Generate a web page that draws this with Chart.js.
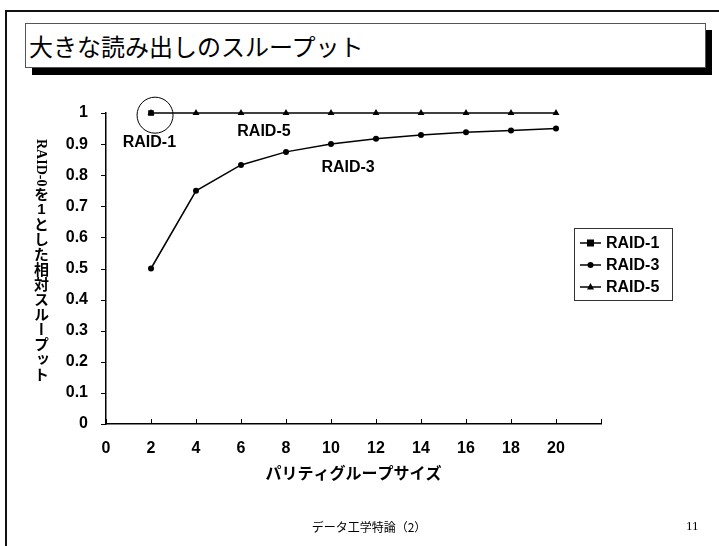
<!DOCTYPE html>
<html>
<head>
<meta charset="utf-8">
<script src="https://cdn.jsdelivr.net/npm/chart.js@4.4.1/dist/chart.umd.min.js"></script>
<style>
  body { margin: 0; width: 719px; height: 546px; overflow: hidden; background: #fff; position: relative; font-family: "Noto Sans CJK JP", sans-serif; }
  #frame { position: absolute; left: 5px; top: 10px; width: 730px; height: 560px; border-top: 2px solid #111; border-left: 2px solid #111; }
  #shadow { position: absolute; left: 32px; top: 30px; width: 680px; height: 45px; background: #000; }
  #titlebox { position: absolute; left: 25px; top: 23px; width: 679px; height: 43px; background: #fff; border: 1px solid #555; }
  #titlebox span { position: absolute; left: 3px; top: 4px; font-size: 24px; line-height: 36px; color: #000; }
  #ytitle { position: absolute; left: 31px; top: 139px; writing-mode: vertical-rl; text-orientation: mixed; font-weight: bold; font-size: 15px; line-height: 20px; color: #000; white-space: nowrap; }
  #ytitle .lat { font-family: "Liberation Serif", serif; font-size: 14px; }
  #ytitle .up { text-combine-upright: all; font-family: "Liberation Sans", sans-serif; }
  #footer { position: absolute; left: 0; width: 738px; top: 518px; text-align: center; font-size: 12px; line-height: 18px; }
  #pageno { position: absolute; left: 686px; top: 517px; font-family: "Liberation Serif", serif; font-size: 13px; line-height: 18px; }
  canvas { position: absolute; left: 0; top: 0; }
</style>
</head>
<body>
<div id="frame"></div>
<div id="shadow"></div>
<div id="titlebox"><span>大きな読み出しのスループット</span></div>
<canvas id="chart" width="719" height="546"></canvas>
<div id="ytitle"><span class="lat">RAID-0</span>を<span class="up">1</span>とした相対スループット</div>
<div id="footer">データ工学特論（2）</div>
<div id="pageno">11</div>
<script>
// parity group size on the x axis
const groupSizes = [2, 4, 6, 8, 10, 12, 14, 16, 18, 20];
const raid1Sizes = [2];
const raid1 = [1];
const raid3 = [0.5, 0.75, 0.833, 0.875, 0.9, 0.917, 0.929, 0.938, 0.944, 0.95];
const raid5 = [1, 1, 1, 1, 1, 1, 1, 1, 1, 1];
const seriesNames = ["RAID-1", "RAID-3", "RAID-5"];
const xTitle = "パリティグループサイズ";

// text labels placed on the plot, in data units
const notes = [
  { text: "RAID-1", x: 1.93, y: 0.905 },
  { text: "RAID-5", x: 7.02, y: 0.94 },
  { text: "RAID-3", x: 10.76, y: 0.825 }
];
const ring = { x: 2.18, y: 0.993 };

const boldFont = "bold 16px 'Liberation Sans', Arial, sans-serif";

function pts(xs, ys) {
  return xs.map((v, i) => ({ x: v, y: ys[i] }));
}

function marker(ctx, style, x, y) {
  ctx.beginPath();
  if (style === "rect") {
    ctx.rect(x - 3.5, y - 3.5, 7, 7);
  } else if (style === "circle") {
    ctx.arc(x, y, 3, 0, Math.PI * 2);
  } else {
    ctx.moveTo(x, y - 4);
    ctx.lineTo(x + 3.5, y + 2.5);
    ctx.lineTo(x - 3.5, y + 2.5);
    ctx.closePath();
  }
  ctx.fill();
}

const extras = {
  id: "extras",
  afterDraw(chart) {
    const ctx = chart.ctx;
    const x = chart.scales.x, y = chart.scales.y;
    ctx.save();
    ctx.strokeStyle = "#000";
    ctx.fillStyle = "#000";
    ctx.lineWidth = 1;
    // tick marks: x inward, y outward
    ctx.beginPath();
    x.ticks.forEach(t => {
      const px = Math.round(x.getPixelForValue(t.value)) + 0.5;
      ctx.moveTo(px, y.bottom);
      ctx.lineTo(px, y.bottom - 5);
    });
    y.ticks.forEach(t => {
      const py = Math.round(y.getPixelForValue(t.value)) + 0.5;
      ctx.moveTo(x.left - 5, py);
      ctx.lineTo(x.left, py);
    });
    ctx.stroke();

    // notes
    ctx.font = boldFont;
    ctx.textAlign = "center";
    ctx.textBaseline = "middle";
    notes.forEach(n => ctx.fillText(n.text, x.getPixelForValue(n.x), y.getPixelForValue(n.y)));

    // ring round RAID-1
    ctx.beginPath();
    ctx.arc(x.getPixelForValue(ring.x), y.getPixelForValue(ring.y), 18, 0, Math.PI * 2);
    ctx.stroke();

    // legend box
    ctx.strokeStyle = "#333";
    ctx.strokeRect(574.5, 228.5, 98, 72);
    ctx.textAlign = "left";
    chart.data.datasets.forEach((ds, i) => {
      const ry = 243 + i * 22;
      ctx.strokeStyle = "#000";
      ctx.lineWidth = 1.5;
      ctx.beginPath();
      ctx.moveTo(580, ry);
      ctx.lineTo(601, ry);
      ctx.stroke();
      marker(ctx, ds.pointStyle, 590.5, ry);
      ctx.fillText(ds.label, 606, ry + 1);
    });
    ctx.restore();
  }
};

new Chart(document.getElementById("chart"), {
  type: "line",
  data: {
    datasets: [
      { label: seriesNames[0], data: pts(raid1Sizes, raid1), pointStyle: "rect", pointRadius: 4 },
      { label: seriesNames[1], data: pts(groupSizes, raid3), pointStyle: "circle", pointRadius: 3 },
      { label: seriesNames[2], data: pts(groupSizes, raid5), pointStyle: "triangle", pointRadius: 4 }
    ].map(d => Object.assign(d, {
      borderColor: "#000",
      backgroundColor: "#000",
      pointBackgroundColor: "#000",
      pointBorderColor: "#000",
      borderWidth: 1.5,
      pointBorderWidth: 0,
      tension: 0,
      clip: false
    }))
  },
  options: {
    responsive: false,
    animation: false,
    layout: { padding: { left: 0, top: 113, right: 118, bottom: 0 } },
    plugins: { legend: { display: false }, tooltip: { enabled: false } },
    scales: {
      x: {
        type: "linear",
        min: 0,
        max: 22,
        afterFit(s) { s.height = 122; },
        ticks: {
          stepSize: 2,
          padding: 15,
          maxRotation: 0,
          color: "#000",
          font: { family: "'Liberation Sans', Arial, sans-serif", size: 16, weight: "bold" },
          callback: v => (v === 22 ? "" : v)
        },
        grid: { display: false, drawTicks: false },
        border: { display: true, color: "#000", width: 1.5 },
        title: {
          display: true,
          text: xTitle,
          color: "#000",
          font: { family: "'Noto Sans CJK JP', sans-serif", size: 16, weight: "bold" },
          padding: { top: 0, bottom: 63 }
        }
      },
      y: {
        min: 0,
        max: 1,
        afterFit(s) { s.width = 106; },
        ticks: {
          stepSize: 0.1,
          padding: 18,
          color: "#000",
          font: { family: "'Liberation Sans', Arial, sans-serif", size: 16, weight: "bold" },
          callback: v => String(parseFloat(v.toFixed(1)))
        },
        grid: { display: false, drawTicks: false },
        border: { display: true, color: "#000", width: 1.5 }
      }
    }
  },
  plugins: [extras]
});
</script>
</body>
</html>
